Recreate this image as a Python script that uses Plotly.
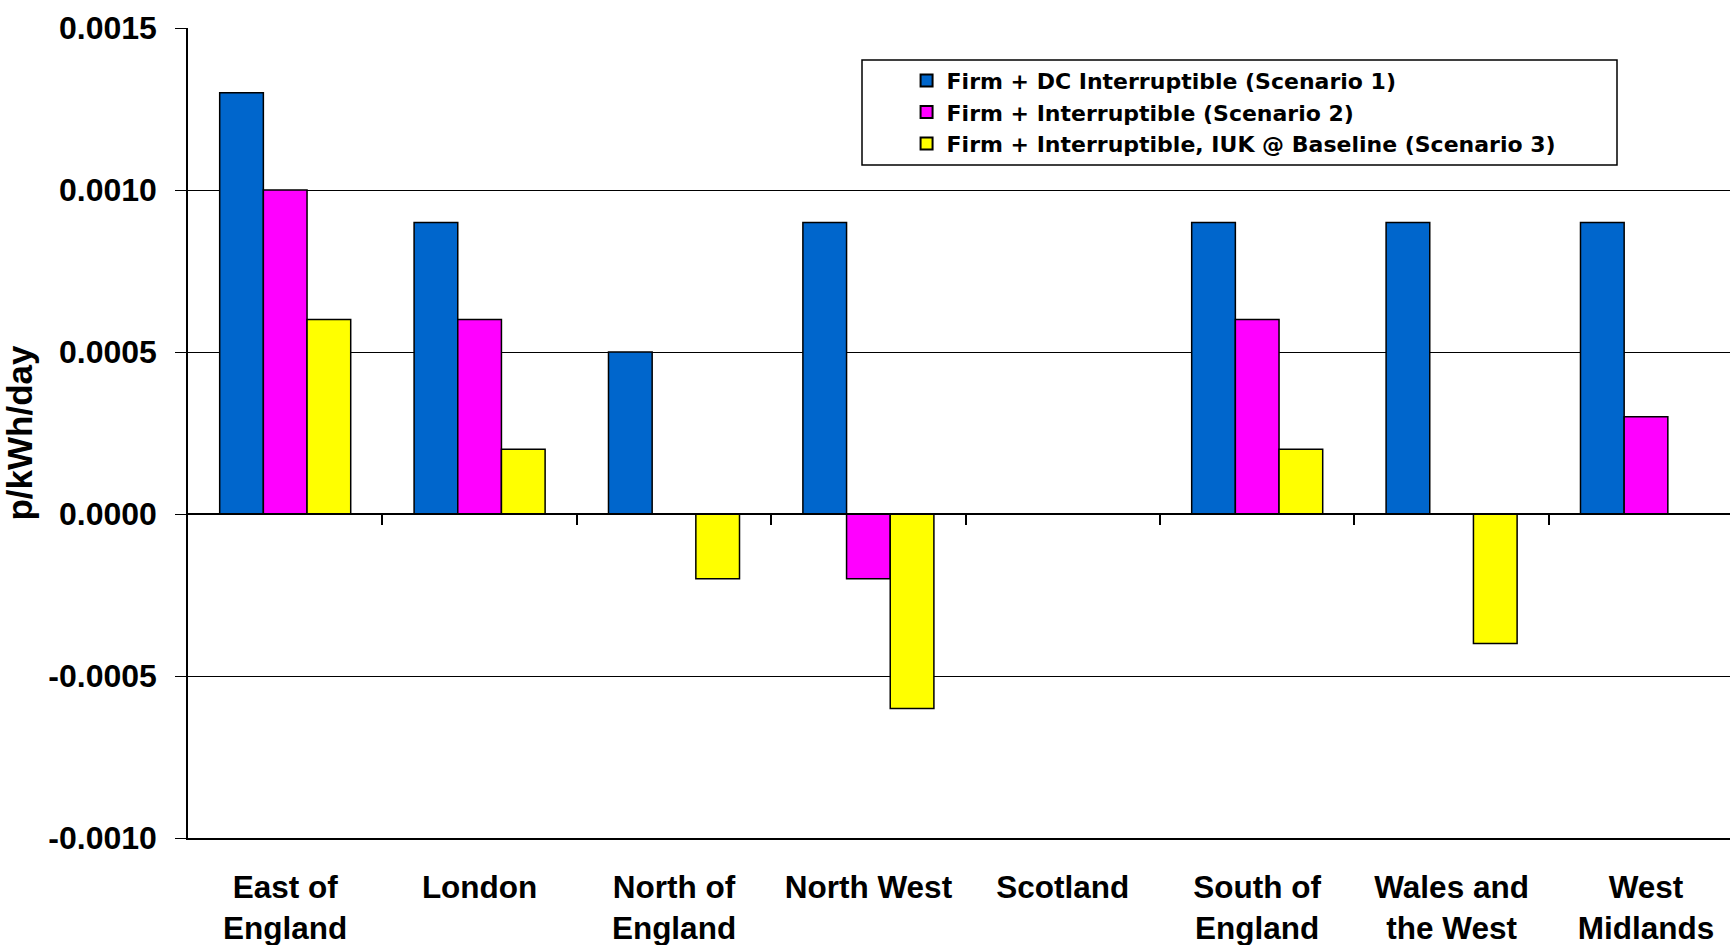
import plotly.graph_objects as go

# Regions on the category axis (line breaks as printed under the axis)
regions = ["East of<br>England", "London", "North of<br>England", "North West",
           "Scotland", "South of<br>England", "Wales and<br>the West", "West<br>Midlands"]

# Change in charge by scenario, p/kWh/day
scenario_1 = [0.0013, 0.0009, 0.0005, 0.0009, 0.0, 0.0009, 0.0009, 0.0009]
scenario_2 = [0.0010, 0.0006, 0.0, -0.0002, 0.0, 0.0006, 0.0, 0.0003]
scenario_3 = [0.0006, 0.0002, -0.0002, -0.0006, 0.0, 0.0002, -0.0004, 0.0]

series_names = ["Firm + DC Interruptible (Scenario 1)",
                "Firm + Interruptible (Scenario 2)",
                "Firm + Interruptible, IUK @ Baseline (Scenario 3)"]
series_colors = ["#0066CC", "#FF00FF", "#FFFF00"]

y_ticks = [-0.0010, -0.0005, 0.0, 0.0005, 0.0010, 0.0015]
y_tick_text = ["-0.0010", "-0.0005", "0.0000", "0.0005", "0.0010", "0.0015"]

FONT = "Liberation Sans, Arial, Helvetica, sans-serif"
LEGEND_FONT = "DejaVu Sans, Verdana, sans-serif"
W, H = 1730, 945
ML, MR, MT, MB = 188, 0, 28, 107

idx = list(range(len(regions)))
fig = go.Figure()
for name, vals, col in zip(series_names, [scenario_1, scenario_2, scenario_3], series_colors):
    fig.add_trace(go.Bar(
        x=idx, y=vals, name=name,
        marker=dict(color=col, line=dict(color="black", width=1.5)),
    ))

plot_w = W - ML - MR
cat_px = 194.4
x_right = -0.5 + plot_w / cat_px
y_min, y_max = -0.0010, 0.0015
zero_frac = (0 - y_min) / (y_max - y_min)

fig.update_layout(
    width=W, height=H,
    margin=dict(l=ML, r=MR, t=MT, b=MB, pad=0, autoexpand=False),
    paper_bgcolor="white", plot_bgcolor="white",
    barmode="group", bargap=0.326, bargroupgap=0,
    font=dict(family=FONT, color="black", size=29),
    showlegend=True,
    legend=dict(
        x=0.466, y=0.961, xanchor="left", yanchor="top",
        bgcolor="rgba(0,0,0,0)", borderwidth=0,
        font=dict(family=LEGEND_FONT, size=22, color="black", weight="bold"),
        tracegroupgap=0, itemsizing="constant", itemwidth=30,
    ),
    xaxis=dict(
        range=[-0.5, x_right], tickmode="array", tickvals=idx, ticktext=regions,
        showgrid=False, zeroline=False, showline=True, linecolor="black", linewidth=2,
        ticks="", ticklabelstandoff=20, automargin=False,
        tickfont=dict(family=FONT, size=31.5, color="black", weight="bold"),
    ),
    xaxis2=dict(
        overlaying="x", anchor="free", position=zero_frac, side="bottom",
        range=[-0.5, x_right], tickmode="array",
        tickvals=[i + 0.5 for i in idx], showticklabels=False,
        ticks="outside", ticklen=10, tickwidth=1.5, tickcolor="black",
        showline=True, linecolor="black", linewidth=1.5,
        showgrid=False, zeroline=False, automargin=False,
    ),
    yaxis=dict(
        range=[y_min, y_max], tickmode="array", tickvals=y_ticks, ticktext=y_tick_text,
        showgrid=True, gridcolor="black", gridwidth=1.3, zeroline=False,
        showline=True, linecolor="black", linewidth=1.5,
        ticks="outside", ticklen=11, tickwidth=1.3, tickcolor="black",
        ticklabelstandoff=12, automargin=False,
        tickfont=dict(family=FONT, size=32, color="black", weight="bold"),
        title=dict(text="p/kWh/day", standoff=9,
                   font=dict(family=FONT, size=35, color="black", weight="bold")),
    ),
)

# Invisible trace on the overlay axis so its ticks along the zero line render
fig.add_trace(go.Scatter(x=[0], y=[0], xaxis="x2", mode="markers",
                         marker=dict(opacity=0), showlegend=False, hoverinfo="skip"))

# Legend frame
fig.add_shape(type="rect", xref="paper", yref="paper",
              x0=(862 - ML) / plot_w, x1=(1617 - ML) / plot_w,
              y0=1 - (165 - MT) / (H - MT - MB), y1=1 - (60 - MT) / (H - MT - MB),
              line=dict(color="black", width=1.5), fillcolor="rgba(0,0,0,0)")

fig.write_html("out.html")
